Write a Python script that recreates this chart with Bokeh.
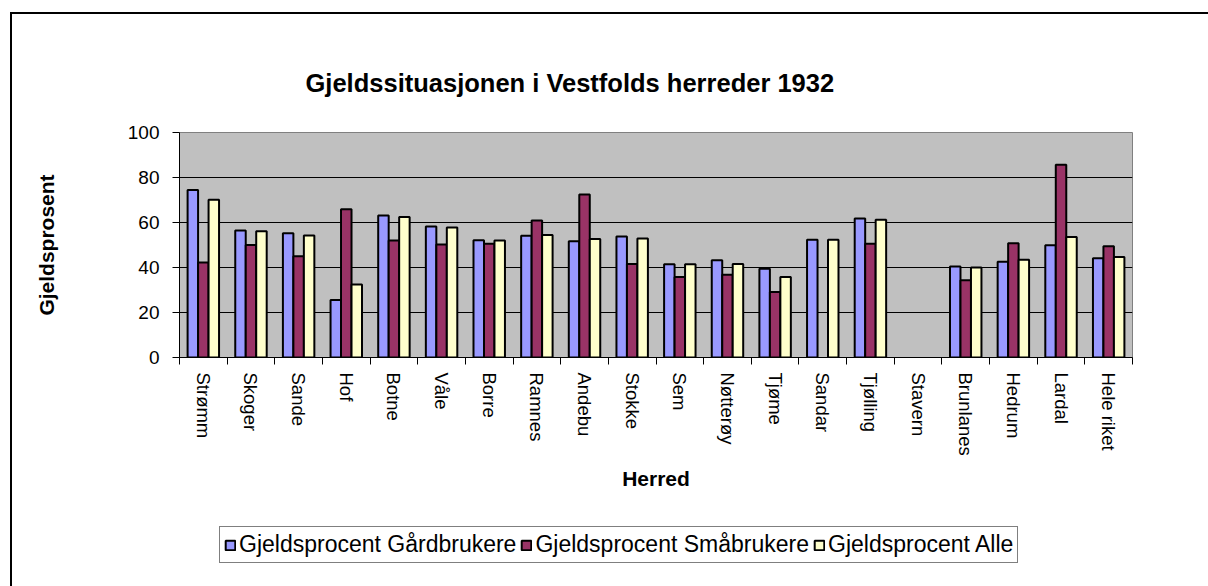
import math
import numpy as np
from bokeh.plotting import figure
from bokeh.layouts import column
from bokeh.models import ColumnDataSource, Range1d, FixedTicker, Legend, LegendItem
from bokeh.transform import dodge
from bokeh.embed import file_html
from bokeh.resources import INLINE

# ---------------- data ----------------
categories = ["Strømm", "Skoger", "Sande", "Hof", "Botne", "Våle", "Borre", "Ramnes",
              "Andebu", "Stokke", "Sem", "Nøtterøy", "Tjøme", "Sandar", "Tjølling",
              "Stavern", "Brunlanes", "Hedrum", "Lardal", "Hele riket"]
nan = float("nan")
gardbrukere = [74.5, 56.4, 55.2, 25.6, 63.1, 58.2, 52.1, 54.1, 51.7, 53.8,
               41.4, 43.2, 39.5, 52.3, 61.8, nan, 40.4, 42.6, 49.9, 44.1]
smabrukere = [42.2, 50.0, 45.0, 65.9, 52.0, 50.2, 50.6, 60.9, 72.4, 41.6,
              35.8, 36.8, 29.1, nan, 50.6, nan, 34.3, 50.8, 85.7, 49.5]
alle = [70.1, 56.1, 54.2, 32.5, 62.5, 57.8, 52.0, 54.5, 52.7, 52.9,
        41.4, 41.6, 35.8, 52.3, 61.2, nan, 40.0, 43.5, 53.6, 44.7]
series_names = ["Gjeldsprocent Gårdbrukere", "Gjeldsprocent Småbrukere", "Gjeldsprocent Alle"]
y_ticks = [0, 20, 40, 60, 80, 100]
title_text = "Gjeldssituasjonen i Vestfolds herreder 1932"
x_title = "Herred"
y_title = "Gjeldsprosent"

FONT = "Liberation Sans"
colors = ["#9999FF", "#993366", "#FFFFCC"]
series_cols = ["g", "s", "a"]

n = len(categories)
src = ColumnDataSource(dict(
    x=np.arange(n),
    g=np.array(gardbrukere, dtype=float),
    s=np.array(smabrukere, dtype=float),
    a=np.array(alle, dtype=float),
))

W = 1196
H1 = 500
H2 = 72

p = figure(width=W, height=H1,
           x_range=Range1d(-0.5, n - 0.5), y_range=Range1d(0, 100),
           output_backend="svg", toolbar_location=None,
           min_border_left=167, min_border_right=76,
           min_border_top=118, min_border_bottom=157,
           background_fill_color="#C0C0C0", border_fill_color="white",
           outline_line_color="#808080", outline_line_width=1)

# title
p.title.text = title_text
p.title.text_font = FONT
p.title.text_font_size = "25.5px"
p.title.text_font_style = "bold"
p.title.text_color = "black"
p.title.align = "left"
p.title.offset = 126
p.title.standoff = 71

# bars
bw = 0.22
offsets = [-bw, 0, bw]
for col, off, c in zip(series_cols, offsets, colors):
    p.vbar(x=dodge("x", off, range=p.x_range), top=col, width=bw, source=src,
           fill_color=c, line_color="black", line_width=2)

# x axis
xa = p.xaxis[0]
xa.ticker = FixedTicker(ticks=list(range(n)), minor_ticks=[i - 0.5 for i in range(n + 1)])
xa.major_label_overrides = {i: c for i, c in enumerate(categories)}
xa.major_label_orientation = -math.pi / 2
xa.major_tick_out = 0
xa.major_tick_in = 0
xa.minor_tick_out = 7
xa.minor_tick_in = 0
xa.minor_tick_line_color = "black"
xa.axis_line_color = "black"
xa.major_label_text_font = FONT
xa.major_label_text_font_size = "18.5px"
xa.major_label_text_color = "black"
xa.major_label_standoff = 8
xa.axis_label = x_title
xa.axis_label_text_font = FONT
xa.axis_label_text_font_size = "21px"
xa.axis_label_text_font_style = "bold"
xa.axis_label_text_color = "black"
xa.axis_label_standoff = 8

# y axis
ya = p.yaxis[0]
ya.ticker = FixedTicker(ticks=y_ticks)
ya.major_tick_out = 7
ya.major_tick_in = 0
ya.minor_tick_out = 0
ya.minor_tick_in = 0
ya.major_tick_line_color = "black"
ya.axis_line_color = "black"
ya.major_label_text_font = FONT
ya.major_label_text_font_size = "19px"
ya.major_label_text_color = "black"
ya.major_label_standoff = 13
ya.axis_label = y_title
ya.axis_label_text_font = FONT
ya.axis_label_text_font_size = "21px"
ya.axis_label_text_font_style = "bold"
ya.axis_label_text_color = "black"
ya.axis_label_standoff = 67

# grid
p.xgrid.visible = False
p.ygrid.ticker = FixedTicker(ticks=[t for t in y_ticks if 0 < t < 100])
p.ygrid.grid_line_color = "black"
p.ygrid.grid_line_width = 1

# legend strip (separate small figure holding the legend; its marks lie outside its view)
q = figure(width=W, height=H2, x_axis_type=None, y_axis_type=None,
           x_range=Range1d(-0.5, n - 0.5), y_range=Range1d(-200, -100),
           output_backend="svg", toolbar_location=None,
           min_border=0, outline_line_color=None,
           background_fill_color="white", border_fill_color="white")
q.xgrid.visible = False
q.ygrid.visible = False
leg_renderers = [q.rect(x="x", y=col, width=bw, height=1, source=src,
                        fill_color=c, line_color="black", line_width=2)
                 for col, c in zip(series_cols, colors)]
legend = Legend(
    items=[LegendItem(label=nm, renderers=[r]) for nm, r in zip(series_names, leg_renderers)],
    orientation="horizontal", location=(40, 23),
    border_line_color="black", border_line_width=1,
    background_fill_color="white", background_fill_alpha=1,
    label_text_font=FONT, label_text_font_size="23px", label_text_color="black",
    glyph_width=12, glyph_height=12, label_standoff=3, spacing=4, padding=4, margin=0,
)
q.add_layout(legend)

layout = column(p, q, spacing=0)
layout.styles = {"border-left": "2px solid black", "border-top": "2px solid black",
                 "margin-left": "10px", "margin-top": "12px"}

open("out.html", "w").write(file_html(layout, INLINE))
